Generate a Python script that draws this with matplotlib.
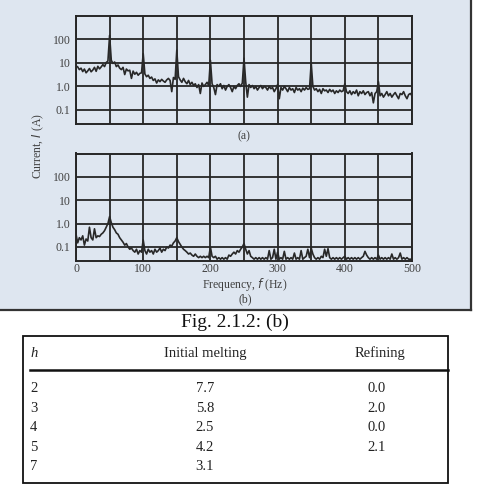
import numpy as np
import matplotlib
matplotlib.use("Agg")
import matplotlib.pyplot as plt
from matplotlib.patches import Rectangle

# ---------------- data ----------------
freq_step = 2.5  # Hz
current_a = [
    7.5, 6.8, 5.2, 6.0, 4.3, 5.5, 3.8, 4.6, 5.8, 4.2, 5.0, 6.5, 4.4, 7.2, 5.6, 6.8, 8.5, 7.0, 10.5, 12.0,
    150, 13.0, 9.5, 11.0, 7.0, 8.2, 6.0, 5.2, 6.5, 3.2, 5.5, 4.6, 4.9, 2.2, 4.5, 3.3, 4.0, 3.0, 3.6, 3.8,
    25.0, 3.4, 2.6, 3.0, 2.2, 2.5, 1.8, 2.1, 1.4, 1.9, 1.6, 2.0, 1.7, 1.5, 1.9, 2.2, 1.8, 0.6, 2.4, 2.0,
    35.0, 2.6, 1.9, 1.5, 2.2, 1.6, 1.3, 1.8, 1.2, 1.5, 1.1, 1.3, 0.9, 1.2, 0.5, 1.4, 1.0, 1.2, 1.5, 1.1,
    13.0, 1.3, 0.9, 0.45, 1.2, 1.0, 1.3, 0.8, 1.1, 0.7, 1.0, 1.2, 0.9, 0.6, 1.0, 0.8, 1.1, 1.3, 1.0, 1.4,
    16.0, 1.6, 0.35, 1.2, 0.9, 1.1, 0.8, 1.0, 0.7, 0.9, 1.1, 0.8, 1.0, 0.9, 0.7, 1.0, 0.8, 0.9, 0.6, 0.8,
    1.2, 0.3, 0.9, 0.7, 1.0, 0.8, 0.6, 0.9, 0.7, 0.8, 0.55, 0.9, 0.7, 0.8, 0.6, 0.85, 0.7, 0.9, 0.75, 0.8,
    10.0, 1.0, 0.7, 0.8, 0.6, 0.75, 0.5, 0.8, 0.65, 0.7, 0.55, 0.75, 0.6, 0.7, 0.5, 0.65, 0.55, 0.7, 0.6, 0.65,
    1.3, 0.6, 0.5, 0.65, 0.45, 0.6, 0.5, 0.7, 0.4, 0.6, 0.5, 0.65, 0.45, 0.55, 0.6, 0.4, 0.55, 0.2, 0.5, 0.6,
    1.6, 0.4, 0.5, 0.35, 0.45, 0.6, 0.4, 0.5, 0.35, 0.45, 0.55, 0.4, 0.3, 0.5, 0.45, 0.6, 0.4, 0.3, 0.45, 0.5, 0.4,
]
current_b = [
    0.35, 0.15, 0.25, 0.2, 0.3, 0.12, 0.22, 0.18, 0.7, 0.25, 0.2, 0.6, 0.25, 0.3, 0.28, 0.35, 0.4, 0.5, 0.7, 1.0,
    2.0, 1.1, 0.7, 0.55, 0.4, 0.35, 0.25, 0.2, 0.16, 0.12, 0.14, 0.1, 0.08, 0.09, 0.07, 0.06, 0.08, 0.05, 0.07, 0.06,
    0.2, 0.07, 0.05, 0.08, 0.06, 0.07, 0.05, 0.08, 0.06, 0.07, 0.09, 0.06, 0.08, 0.07, 0.1, 0.09, 0.12, 0.11, 0.15, 0.18,
    0.25, 0.17, 0.13, 0.1, 0.08, 0.07, 0.06, 0.05, 0.055, 0.045, 0.04, 0.05, 0.04, 0.035, 0.04, 0.035, 0.04, 0.035, 0.04, 0.035,
    0.1, 0.04, 0.035, 0.04, 0.03, 0.035, 0.03, 0.035, 0.03, 0.035, 0.03, 0.045, 0.04, 0.05, 0.06, 0.05, 0.07, 0.06, 0.08, 0.1,
    0.14, 0.08, 0.05, 0.07, 0.04, 0.035, 0.03, 0.035, 0.03, 0.035, 0.03, 0.035, 0.03, 0.035, 0.03, 0.07, 0.03, 0.035, 0.08, 0.03,
    0.06, 0.03, 0.035, 0.03, 0.065, 0.03, 0.035, 0.03, 0.035, 0.03, 0.055, 0.03, 0.035, 0.03, 0.07, 0.03, 0.035, 0.04, 0.08, 0.035,
    0.09, 0.05, 0.035, 0.03, 0.035, 0.03, 0.04, 0.035, 0.08, 0.04, 0.085, 0.035, 0.03, 0.035, 0.03, 0.035, 0.03, 0.035, 0.03, 0.035,
    0.04, 0.03, 0.035, 0.03, 0.035, 0.03, 0.035, 0.03, 0.035, 0.03, 0.035, 0.04, 0.065, 0.045, 0.035, 0.03, 0.035, 0.03, 0.035, 0.03,
    0.045, 0.03, 0.035, 0.03, 0.035, 0.03, 0.035, 0.03, 0.05, 0.03, 0.035, 0.03, 0.035, 0.055, 0.03, 0.035, 0.03, 0.035, 0.03, 0.03, 0.03,
]
freq = np.arange(len(current_a)) * freq_step

y_ticks = [0.1, 1.0, 10, 100]
y_ticklabels = ["0.1", "1.0", "10", "100"]
x_ticks = [0, 100, 200, 300, 400, 500]
x_ticklabels = ["0", "100", "200", "300", "400", "500"]

table_header = ["h", "Initial melting", "Refining"]
table_h = ["2", "3", "4", "5", "7"]
table_initial = ["7.7", "5.8", "2.5", "4.2", "3.1"]
table_refining = ["0.0", "2.0", "0.0", "2.1", ""]

# ---------------- figure ----------------
W, H = 479, 486
fig = plt.figure(figsize=(W / 100, H / 100), dpi=100)
plt.rcParams['font.family'] = ['Liberation Serif', 'DejaVu Serif']

bg = "#dee6f0"
ink = "#262626"
label_col = "#404040"
sfs = 8.5

# overlay axes in pixel coordinates
ov = fig.add_axes([0, 0, 1, 1], zorder=0)
ov.set_xlim(0, W)
ov.set_ylim(H, 0)
ov.axis("off")
ov.add_patch(Rectangle((0, 0), 471, 309, facecolor=bg, edgecolor="none"))
ov.plot([471, 471], [0, 310], color="#333333", lw=1.6)
ov.plot([0, 471], [309.5, 309.5], color="#333333", lw=1.6)


def px_axes(x0, y0, x1, y1):
    return fig.add_axes([x0 / W, 1 - y1 / H, (x1 - x0) / W, (y1 - y0) / H], zorder=2)


def style(ax):
    ax.set_facecolor(bg)
    ax.set_yscale("log")
    ax.set_xlim(0, 500)
    ax.set_ylim(10 ** -1.6, 1000)
    ax.set_xticks(np.arange(0, 501, 50))
    ax.set_yticks(y_ticks)
    ax.set_yticklabels(y_ticklabels)
    ax.yaxis.set_minor_locator(matplotlib.ticker.NullLocator())
    ax.grid(True, color=ink, lw=1.3)
    ax.tick_params(axis="y", length=0, labelsize=sfs, labelcolor=label_col, pad=4)
    ax.tick_params(axis="x", length=0, labelsize=sfs, labelcolor=label_col, pad=1.5)
    for s in ax.spines.values():
        s.set_color(ink)
        s.set_linewidth(1.4)


ax_a = px_axes(76, 16, 412, 124)
style(ax_a)
ax_a.plot(freq, current_a, color="#282828", lw=1.2)
ax_a.set_xticklabels([])

ax_b = px_axes(76, 153.5, 412, 261)
style(ax_b)
ax_b.plot(freq, current_b, color="#282828", lw=1.2)
tick_vals = np.arange(0, 501, 50)
ax_b.set_xticklabels([str(v) if v in x_ticks else "" for v in tick_vals])

ov.text(244, 136, "(a)", ha="center", va="center", fontsize=sfs, color=label_col)
ov.text(245, 284.5, "Frequency, $\\it{f}$ (Hz)", ha="center", va="center", fontsize=sfs, color=label_col)
ov.text(245, 299, "(b)", ha="center", va="center", fontsize=sfs, color=label_col)
ov.text(38, 146, "Current, $\\it{I}$ (A)", ha="center", va="center", rotation=90,
        fontsize=sfs, color=label_col)

# caption
ov.text(235, 322, "Fig. 2.1.2: (b)", ha="center", va="center", fontsize=14, color="#111111")

# table
ov.add_patch(Rectangle((23, 336), 425, 147, facecolor="white", edgecolor="#111111", lw=1.3))
ov.plot([30, 448], [370, 370], color="#111111", lw=1.8)
tfs = 10.5
ov.text(30, 353, table_header[0], ha="left", va="center", fontsize=tfs, style="italic", color="#222222")
ov.text(205, 353, table_header[1], ha="center", va="center", fontsize=tfs, color="#222222")
ov.text(380, 353, table_header[2], ha="center", va="center", fontsize=tfs, color="#222222")
row_y = [388, 408, 427.5, 447, 466]
for y, h, a, r in zip(row_y, table_h, table_initial, table_refining):
    ov.text(30, y, h, ha="left", va="center", fontsize=tfs, color="#222222")
    ov.text(205, y, a, ha="center", va="center", fontsize=tfs, color="#222222")
    ov.text(377, y, r, ha="center", va="center", fontsize=tfs, color="#222222")

fig.savefig("out.png", dpi=100)
